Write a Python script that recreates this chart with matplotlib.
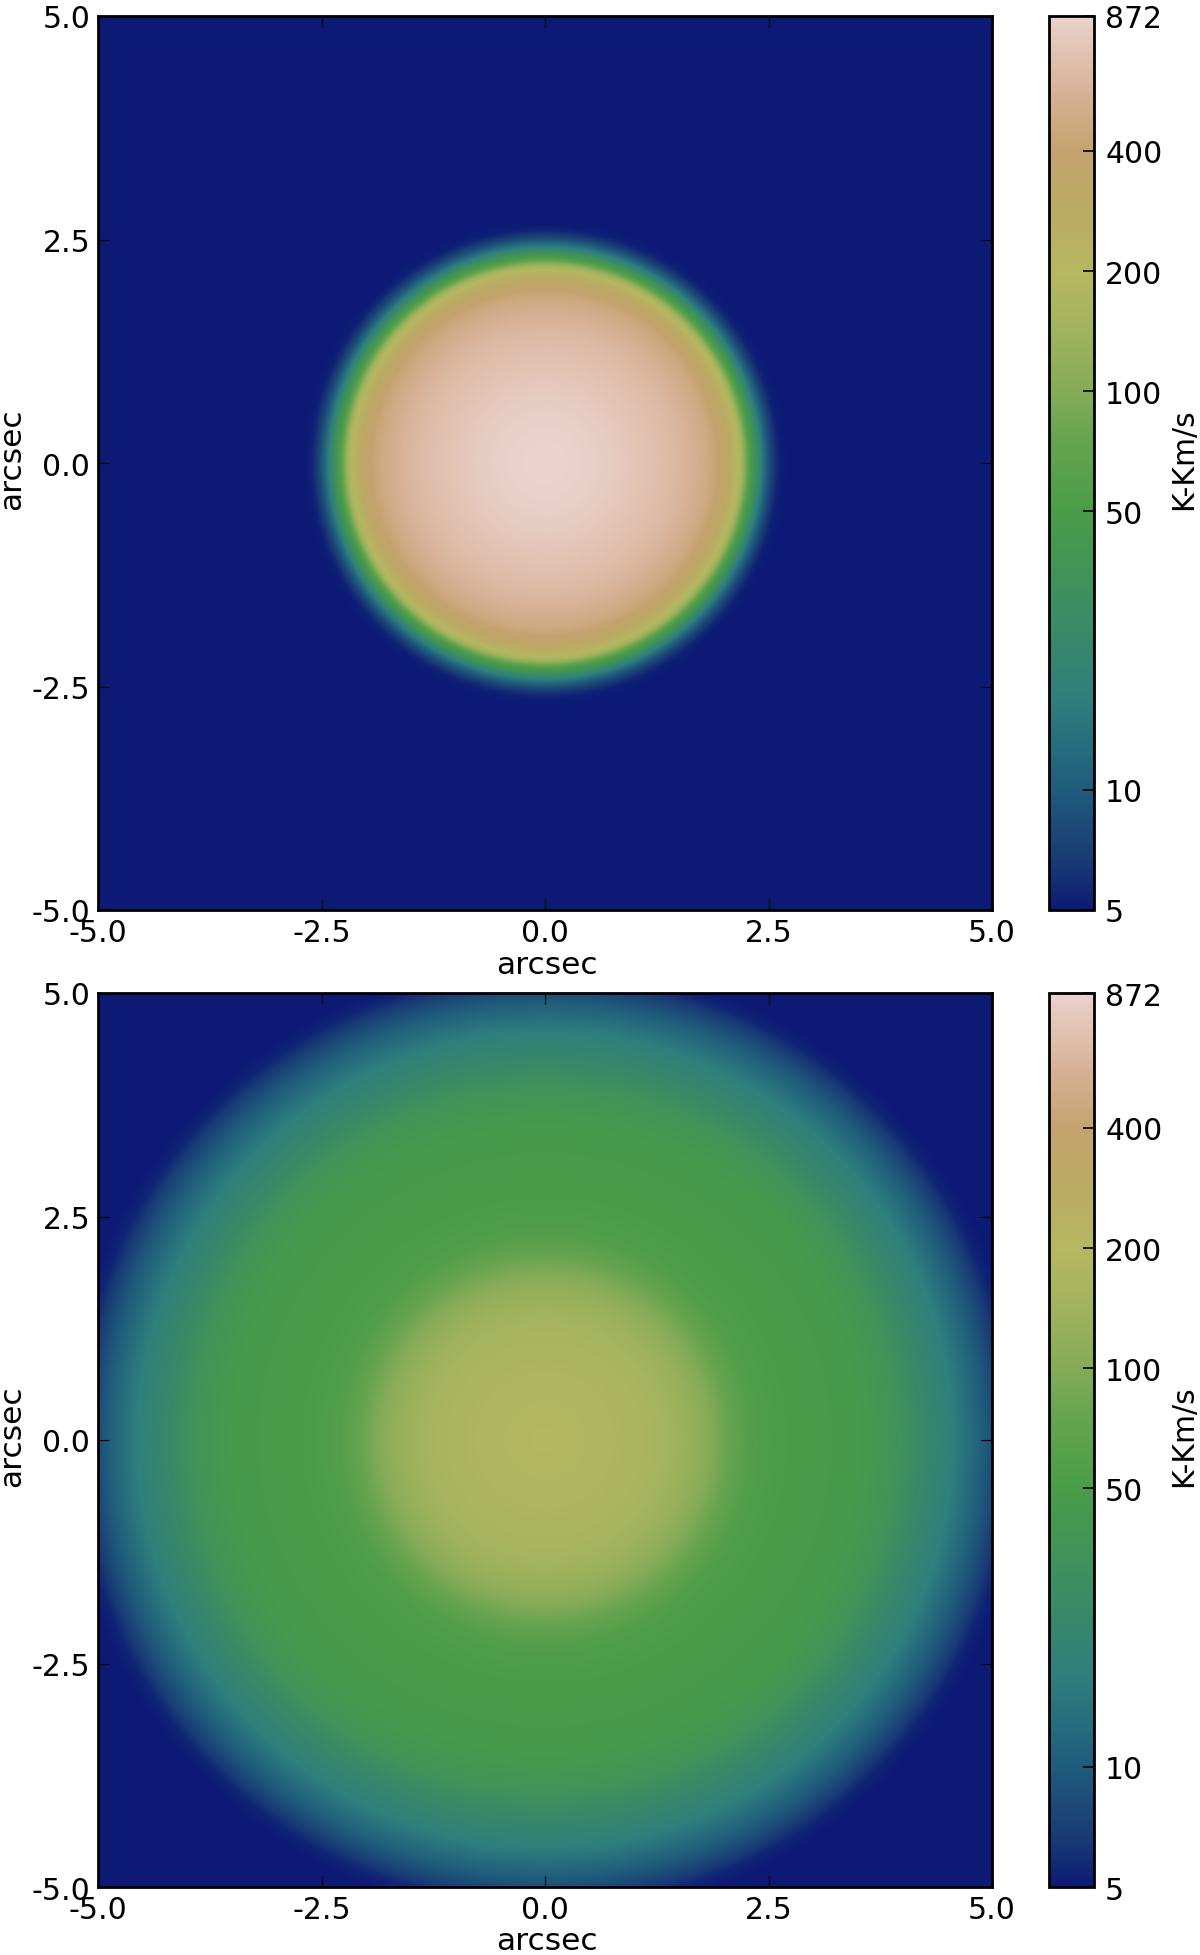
import numpy as np
import matplotlib
matplotlib.use("Agg")
import matplotlib.pyplot as plt
from matplotlib.colors import LogNorm, LinearSegmentedColormap

plt.rcParams['font.family'] = ['DejaVu Sans']
plt.rcParams['axes.unicode_minus'] = False

# Radial profiles (arcsec, K-Km/s)
r_top = [0.0, 0.35, 0.73, 1.06, 1.35, 1.62, 1.85, 2.0, 2.08, 2.14, 2.20, 2.26, 2.31, 2.36, 2.41, 2.48, 2.55, 2.63, 2.72, 8.0]
v_top = [872, 860, 800, 720, 650, 570, 470, 370, 290, 230, 170, 85, 50, 33, 20, 11, 7, 5.3, 5, 5]
r_bot = [0.0, 0.4, 0.8, 1.2, 1.55, 1.8, 2.07, 2.3, 2.66, 3.2, 3.6, 3.95, 4.2, 4.55, 4.87, 5.05, 5.25, 5.4, 8.0]
v_bot = [195, 188, 175, 160, 135, 108, 75, 58, 50, 48, 44, 35, 25, 18, 11, 8, 5.5, 5, 5]

xticks = [-5.0, -2.5, 0.0, 2.5, 5.0]
cbar_ticks = [5, 10, 50, 100, 200, 400, 872]
cbar_label = "K-Km/s"
axis_label = "arcsec"

# Colour scale: value, RGB
cmap_vals = [5, 6.6, 10, 17, 23, 34, 50, 75, 100, 150, 200, 300, 400, 550, 872]
cmap_rgb = ["#0c1a75", "#193a75", "#1f5c7c", "#2f7f7e", "#37876c", "#41925a", "#4a9c48",
            "#66a44f", "#85ab58", "#a5b45e", "#b5b860", "#bca964", "#c4a36e", "#d6b094", "#ebd2cb"]

vmin, vmax = cmap_vals[0], cbar_ticks[-1]
pos = (np.log10(cmap_vals) - np.log10(vmin)) / (np.log10(vmax) - np.log10(vmin))
cmap = LinearSegmentedColormap.from_list("earth_cut", list(zip(pos, cmap_rgb)), N=512)
norm = LogNorm(vmin=vmin, vmax=vmax)

W, H = 1200, 1956
fig = plt.figure(figsize=(W / 100, H / 100), dpi=100)

grid = np.linspace(-5, 5, 256)
X, Y = np.meshgrid(grid, grid)
R = np.hypot(X, Y)

FS = 21.5
LS = 22.5
panels = [(r_top, v_top, 17, 911), (r_bot, v_bot, 994, 1888)]
for rs, vs, ytop, ybot in panels:
    ax = fig.add_axes([98 / W, 1 - ybot / H, 894 / W, (ybot - ytop) / H])
    img = np.exp(np.interp(R, rs, np.log(vs)))
    im = ax.imshow(img, extent=[-5, 5, -5, 5], origin='lower', cmap=cmap, norm=norm,
                   interpolation='bilinear', aspect='auto')
    ax.set_xticks(xticks)
    ax.set_yticks(xticks)
    ax.set_xticklabels([f"{t:.1f}" for t in xticks])
    ax.set_yticklabels([f"{t:.1f}" for t in xticks])
    ax.tick_params(direction='in', top=True, right=True, length=8, width=0.8, labelsize=FS, pad=5.5)
    for s in ax.spines.values():
        s.set_linewidth(2)
    ax.set_xlabel(axis_label, fontsize=LS)
    ax.xaxis.set_label_coords(0.502, -54 / 894, transform=ax.transAxes)
    ax.xaxis.label.set_va('center')
    ax.set_ylabel(axis_label, fontsize=LS)
    ax.yaxis.label.set_va('center')
    ax.yaxis.set_label_coords(-86 / 894, 0.505)

    cax = fig.add_axes([1049 / W, 1 - ybot / H, 45 / W, (ybot - ytop) / H])
    cb = fig.colorbar(im, cax=cax)
    cb.set_ticks(cbar_ticks)
    cb.set_ticklabels([str(t) for t in cbar_ticks])
    cb.minorticks_off()
    cax.tick_params(which='major', direction='in', length=8, width=1.2, labelsize=FS, pad=8, right=True)
    cb.outline.set_linewidth(2)
    cb.set_label(cbar_label, fontsize=LS - 1)
    cax.yaxis.label.set_va('center')
    cax.yaxis.set_label_coords((1184 - 1049) / 45, 0.505)

fig.savefig("out.png", dpi=100)
